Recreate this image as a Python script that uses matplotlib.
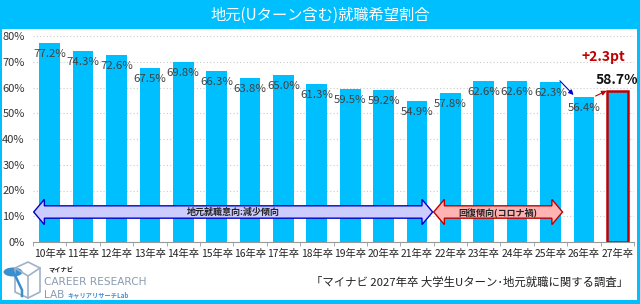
import numpy as np
import matplotlib
matplotlib.use("Agg")
import matplotlib.pyplot as plt
from matplotlib.patches import Polygon, Rectangle, Circle
from matplotlib.lines import Line2D

plt.rcParams['font.family'] = ['Noto Sans CJK JP', 'DejaVu Sans']

years = ['10年卒', '11年卒', '12年卒', '13年卒', '14年卒', '15年卒', '16年卒', '17年卒', '18年卒',
         '19年卒', '20年卒', '21年卒', '22年卒', '23年卒', '24年卒', '25年卒', '26年卒', '27年卒']
rates = [77.2, 74.3, 72.6, 67.5, 69.8, 66.3, 63.8, 65.0, 61.3,
         59.5, 59.2, 54.9, 57.8, 62.6, 62.6, 62.3, 56.4, 58.7]
y_ticks = [0, 10, 20, 30, 40, 50, 60, 70, 80]

title = '地元(Uターン含む)就職希望割合'
band1_text = '地元就職意向:減少傾向'
band2_text = '回復傾向(コロナ禍)'
diff_text = '+2.3pt'
source_text = '「マイナビ 2027年卒 大学生Uターン･地元就職に関する調査」'

CYAN = '#00BFFF'
DARKRED = '#C00000'

fig = plt.figure(figsize=(6.4, 3.04), dpi=100)
fig.patch.set_facecolor(CYAN)
# white panel under the banner
fig.add_artist(Rectangle((2/640, 4/304), 635/640, 271/304, transform=fig.transFigure,
                         facecolor='white', edgecolor='none', zorder=0))
fig.text(0.5, 1 - 15/304, title, color='white', fontsize=11, ha='center', va='center')

ax = fig.add_axes([33/640, 62/304, 601/640, 206/304])
ax.set_facecolor('none')
x = np.arange(len(years))
bars = ax.bar(x, rates, width=0.62, color=CYAN, zorder=2)
bars[-1].set_edgecolor(DARKRED)
bars[-1].set_linewidth(1.8)

ax.set_xlim(-0.5, len(years) - 0.5)
ax.set_ylim(0, 80)
ax.set_yticks(y_ticks)
ax.set_yticklabels([f'{t}%' for t in y_ticks], fontsize=8, color='#333333')
ax.set_xticks(x)
ax.set_xticklabels(years, fontsize=7.4, color='#222222')
ax.tick_params(axis='x', length=0, pad=5)
ax.tick_params(axis='y', length=0, pad=6)
ax.set_xticks(np.arange(-0.5, len(years)), minor=True)
ax.tick_params(axis='x', which='minor', length=3, color='#999999')
ax.yaxis.grid(True, color='#cccccc', linestyle=(0, (1, 2)), linewidth=0.8, zorder=0)
for s in ['top', 'right', 'left']:
    ax.spines[s].set_visible(False)
ax.spines['bottom'].set_color('#999999')

# value labels
for i, v in enumerate(rates[:-1]):
    ax.annotate(f'{v:.1f}%', (x[i], v), xytext=(0, -8), textcoords='offset points',
                ha='center', va='center', fontsize=8.2, color='#404040', zorder=4)
ax.annotate(f'{rates[-1]:.1f}%', (x[-1], rates[-1]), xytext=(0, 3), textcoords='offset points',
            ha='center', va='bottom', fontsize=10, fontweight='bold', color='#111111', zorder=4)
ax.annotate(diff_text, (x[-1], rates[-1]), xytext=(-10, 19), textcoords='offset points',
            ha='center', va='bottom', fontsize=10, fontweight='bold', color=DARKRED, zorder=4)

# small arrows
ax.annotate('', xy=(x[-2] - 0.31, rates[-2] + 0.7), xytext=(x[-3] + 0.28, rates[-3] + 0.3),
            arrowprops=dict(arrowstyle='-|>', color='#0000CC', lw=0.8, mutation_scale=7,
                            shrinkA=0, shrinkB=0), zorder=5)
ax.annotate('', xy=(x[-1] - 0.32, rates[-1]), xytext=(x[-2] + 0.35, rates[-2] + 0.3),
            arrowprops=dict(arrowstyle='-|>', color=DARKRED, lw=0.8, mutation_scale=7,
                            shrinkA=0, shrinkB=0), zorder=5)


def double_arrow(x0, x1, yc, body, head, hl, fc, ec, label):
    pts = [(x0, yc), (x0 + hl, yc + head), (x0 + hl, yc + body), (x1 - hl, yc + body),
           (x1 - hl, yc + head), (x1, yc), (x1 - hl, yc - head), (x1 - hl, yc - body),
           (x0 + hl, yc - body), (x0 + hl, yc - head)]
    ax.add_patch(Polygon(pts, closed=True, facecolor=fc, edgecolor=ec, linewidth=1.0, zorder=3))
    ax.text((x0 + x1) / 2, yc, label, ha='center', va='center', fontsize=6.5,
            fontweight='bold', color='#222222', zorder=4)


double_arrow(-0.48, 11.47, 11.65, 2.4, 4.9, 0.32, '#CCCCFF', '#0000CC', band1_text)
double_arrow(11.5, 15.36, 11.65, 2.4, 4.9, 0.32, '#FFB3B3', DARKRED, band2_text)

# footer
fig.text(628/640, 1 - 282/304, source_text, fontsize=8.2, color='#222222', ha='right', va='center')

# logo
fig.add_artist(Line2D([15/640, 28/640, 40/640, 40/640, 28/640, 15/640, 15/640],
                      [1 - 268/304, 1 - 262/304, 1 - 268/304, 1 - 292/304, 1 - 298/304, 1 - 292/304, 1 - 268/304],
                      transform=fig.transFigure, color='#9fb3c8', lw=1.2))
fig.add_artist(Line2D([15/640, 28/640, 40/640], [1 - 268/304, 1 - 276/304, 1 - 268/304],
                      transform=fig.transFigure, color='#9fb3c8', lw=1.2))
fig.add_artist(Line2D([28/640, 28/640], [1 - 276/304, 1 - 298/304],
                      transform=fig.transFigure, color='#9fb3c8', lw=1.2))
fig.add_artist(Line2D([14/640, 22/640, 22/640], [1 - 273/304, 1 - 290/304, 1 - 296/304],
                      transform=fig.transFigure, color='#3a8fd0', lw=1.8))
fig.add_artist(Circle((13/640, 1 - 272/304), 4.5/304, transform=fig.transFigure,
                      facecolor='#3a8fd0', edgecolor='none'))
fig.text(48/640, 1 - 270/304, 'マイナビ', fontsize=4.5, fontweight='bold', color='#222222', va='center')
fig.text(44/640, 1 - 282/304, 'CAREER RESEARCH', fontsize=7.6, color='#8a9bb0', va='center',
         family='DejaVu Sans')
fig.text(44/640, 1 - 295/304, 'LAB', fontsize=7.6, color='#8a9bb0', va='center', family='DejaVu Sans')
fig.text(67/640, 1 - 295/304, 'キャリアリサーチLab', fontsize=4.5, color='#4a8fd0', va='center', fontweight='bold')

fig.savefig('out.png', dpi=100, facecolor=fig.get_facecolor())
